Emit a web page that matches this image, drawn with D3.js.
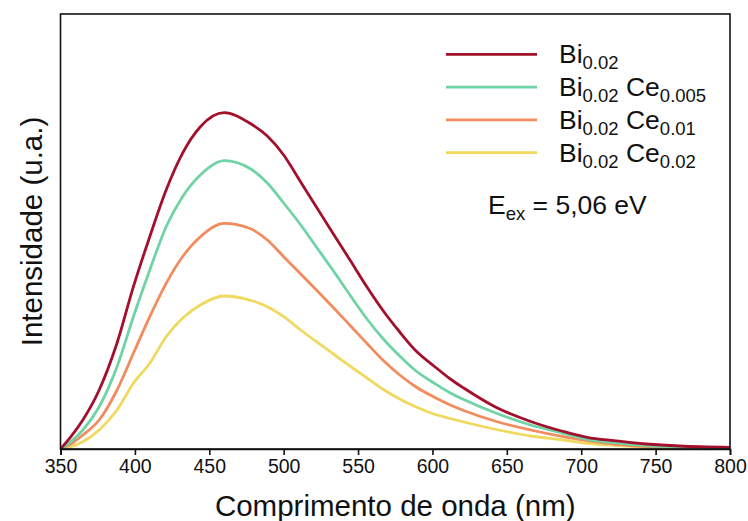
<!DOCTYPE html>
<html>
<head>
<meta charset="utf-8">
<script src="https://cdn.jsdelivr.net/npm/d3@7"></script>
<style>
  html, body { margin: 0; padding: 0; background: #fff; }
  svg { display: block; font-family: "Liberation Sans", Arial, Helvetica, sans-serif; }
</style>
</head>
<body>
<svg id="chart" width="748" height="521"></svg>
<script>
// ---- data ----
const wavelength = [350, 357, 365, 376, 388, 399, 410, 421, 432, 444, 460, 477, 489, 500, 511, 522, 533, 545, 556, 567, 578, 589, 601, 612, 621, 643, 666, 688, 704, 722, 744, 766, 800];
const bi002      = [0, 12.3, 29, 59, 106, 162.3, 212.3, 259, 295.7, 322.3, 336.3, 326, 313, 294, 268, 242, 216, 188, 162, 138, 117, 98, 83, 70, 61, 41.5, 27.5, 17.5, 11.7, 8.3, 5, 3, 1.7];
const biCe0005   = [0, 7.3, 19, 42.3, 82.3, 132.3, 179, 222.3, 252.3, 274, 288.3, 280.7, 266, 246, 225, 202, 179, 153, 130, 110, 93, 78, 66, 56, 49.5, 35.7, 24, 15.7, 9.7, 6.3, 3.3, 1.7, 0.7];
const biCe001    = [0, 5, 14, 29, 59, 95.7, 132.3, 165.7, 192.3, 212.3, 225.7, 220.7, 209, 192.3, 175.7, 159, 142, 123, 105.5, 88.5, 74, 62, 52, 44, 38.5, 27.5, 19, 12.3, 8.3, 5, 2.3, 1.3, 0.3];
const biCe002    = [0, 2.3, 7.3, 19, 39, 65.7, 85.7, 112.3, 130.7, 144, 153, 149, 142.3, 132.3, 119.5, 107.3, 95.5, 82.5, 71, 59.5, 50, 42, 35, 30.5, 27, 19.5, 13, 9, 5.7, 3.7, 1.7, 1, 0.3];
const seriesNames = ["Bi002", "BiCe0005", "BiCe001", "BiCe002"];
const seriesValues = [bi002, biCe0005, biCe001, biCe002];
const seriesColors = ["#a3102b", "#6fd3a6", "#f28b5e", "#efd95f"];
const legendMain = [["Bi", ""], ["Bi", "Ce"], ["Bi", "Ce"], ["Bi", "Ce"]];
const legendSub  = [["0.02", ""], ["0.02", "0.005"], ["0.02", "0.01"], ["0.02", "0.02"]];
const xTicks = [350, 400, 450, 500, 550, 600, 650, 700, 750, 800];

// ---- layout ----
const svg = d3.select("#chart");
const L = 60.5, R = 730, T = 14, B = 449;
const x = d3.scaleLinear().domain([350, 800]).range([L, R]);
const y = d3.scaleLinear().domain([0, 435]).range([B, T]);

svg.append("clipPath").attr("id", "clip")
  .append("rect").attr("x", L).attr("y", T).attr("width", R - L).attr("height", B - T);

// curves (draw yellow first, red last)
const line = d3.line().x(d => x(d[0])).y(d => y(d[1])).curve(d3.curveMonotoneX);
const g = svg.append("g").attr("clip-path", "url(#clip)");
for (let i = seriesValues.length - 1; i >= 0; i--) {
  const pts = wavelength.map((w, j) => [w, seriesValues[i][j]]);
  g.append("path").datum(pts)
    .attr("d", line)
    .attr("fill", "none")
    .attr("stroke", seriesColors[i])
    .attr("stroke-width", 2.8)
    .attr("stroke-linejoin", "round");
}

// frame
svg.append("rect").attr("x", L).attr("y", T).attr("width", R - L).attr("height", B - T)
  .attr("fill", "none").attr("stroke", "#111").attr("stroke-width", 1.6);

// x axis
const xAxis = d3.axisBottom(x).tickValues(xTicks).tickSize(6).tickPadding(4).tickFormat(d3.format("d"));
const xg = svg.append("g").attr("transform", `translate(0,${B})`).call(xAxis);
xg.select(".domain").attr("stroke", "#111").attr("stroke-width", 1.6);
xg.selectAll(".tick line").attr("stroke", "#111").attr("stroke-width", 1.6);
xg.selectAll(".tick text").attr("font-size", 19.5).attr("fill", "#111")
  .attr("font-family", "'Liberation Sans', Arial, sans-serif").attr("dy", "0.71em");

// axis titles
svg.append("text").attr("x", (L + R) / 2).attr("y", 516)
  .attr("text-anchor", "middle").attr("font-size", 29.5).attr("fill", "#111")
  .text("Comprimento de onda (nm)");
svg.append("text").attr("transform", `translate(41.5,${(T + B) / 2}) rotate(-90)`)
  .attr("text-anchor", "middle").attr("font-size", 29.5).attr("fill", "#111")
  .text("Intensidade (u.a.)");

// legend
const legY0 = 54.3, legDy = 32.8;
seriesNames.forEach((name, i) => {
  const ly = legY0 + i * legDy;
  svg.append("line").attr("x1", 446).attr("x2", 537).attr("y1", ly).attr("y2", ly)
    .attr("stroke", seriesColors[i]).attr("stroke-width", 2.8);
  const t = svg.append("text").attr("x", 559).attr("y", ly + 9)
    .attr("font-size", 26.5).attr("fill", "#111");
  t.append("tspan").text(legendMain[i][0]);
  t.append("tspan").attr("font-size", 18.5).attr("dy", 6).text(legendSub[i][0]);
  if (legendMain[i][1]) {
    t.append("tspan").attr("dy", -6).text("\u00a0" + legendMain[i][1]);
    t.append("tspan").attr("font-size", 18.5).attr("dy", 6).text(legendSub[i][1]);
  }
});

// excitation energy annotation
const ann = svg.append("text").attr("x", 488).attr("y", 214).attr("font-size", 26.5).attr("fill", "#111");
ann.append("tspan").text("E");
ann.append("tspan").attr("font-size", 18.5).attr("dy", 6).text("ex");
ann.append("tspan").attr("dy", -6).text(" = 5,06 eV");
</script>
</body>
</html>
